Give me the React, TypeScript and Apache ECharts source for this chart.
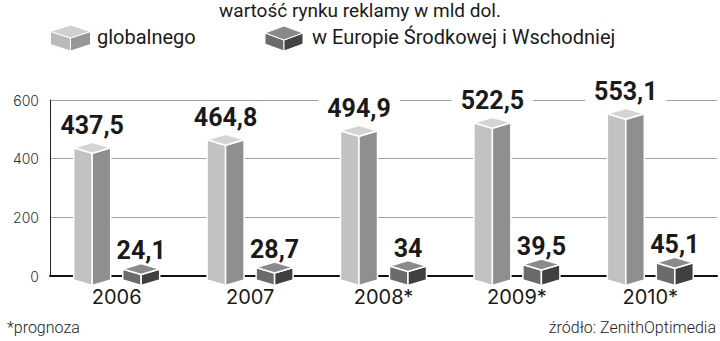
import React, { useEffect, useRef } from "react";
import * as echarts from "echarts";

const categories = ["2006", "2007", "2008*", "2009*", "2010*"];
const globalValues = [437.5, 464.8, 494.9, 522.5, 553.1];
const europeValues = [24.1, 28.7, 34, 39.5, 45.1];
const yTicks = [0, 200, 400, 600];

const titleText = "wartość rynku reklamy w mld dol.";
const legendGlobal = "globalnego";
const legendEurope = "w Europie Środkowej i Wschodniej";
const noteLeft = "*prognoza";
const noteRight = "źródło: ZenithOptimedia";

const GLOBAL_COLORS = { top: "#d4d4d4", left: "#c2c2c2", right: "#8f8f8f" };
const EUROPE_COLORS = { top: "#8b8b8b", left: "#6b6b6b", right: "#404040" };

const fmt = (v: number) => String(v).replace(".", ",");

function makeBoxRenderer(offset: number, colors: { top: string; left: string; right: string }) {
  return (params: any, api: any) => {
    const cat = api.value(0);
    const val = api.value(1);
    const p = api.coord([cat, val]);
    const p0 = api.coord([cat, 0]);
    const cx = p[0] + offset;
    const yv = p[1];
    const yb = p0[1] + 4;
    const w = 18.5;
    const dh = 5.5;
    const stroke = { stroke: "#ffffff", lineWidth: 1.5, lineJoin: "round" };
    return {
      type: "group",
      children: [
        {
          type: "polygon",
          shape: { points: [[cx - w, yv], [cx, yv + dh], [cx, yb + dh], [cx - w, yb]] },
          style: { fill: colors.left, ...stroke },
        },
        {
          type: "polygon",
          shape: { points: [[cx, yv + dh], [cx + w, yv], [cx + w, yb], [cx, yb + dh]] },
          style: { fill: colors.right, ...stroke },
        },
        {
          type: "polygon",
          shape: { points: [[cx - w, yv], [cx, yv - dh], [cx + w, yv], [cx, yv + dh]] },
          style: { fill: colors.top, ...stroke },
        },
      ],
    };
  };
}

function makeLabelRenderer(offset: number, labelGap: number) {
  return (params: any, api: any) => {
    const cat = api.value(0);
    const val = api.value(1);
    const p = api.coord([cat, val]);
    return {
      type: "text",
      x: p[0] + offset,
      y: p[1] - labelGap,
      style: {
        text: fmt(val),
        fontFamily: "Roboto, sans-serif",
        fontWeight: 700,
        fontSize: 25,
        fill: "#1a1a1a",
        align: "center",
        verticalAlign: "middle",
        backgroundColor: "#ffffff",
        padding: [0, 9],
      },
    };
  };
}

function cube(cx: number, w: number, top: number, dh: number, h: number, colors: { top: string; left: string; right: string }) {
  const mid = top + dh;
  const front = top + 2 * dh;
  return {
    type: "group",
    children: [
      { type: "polygon", shape: { points: [[cx - w, mid], [cx, front], [cx, front + h], [cx - w, mid + h]] }, style: { fill: colors.left, stroke: "#fff", lineWidth: 1 } },
      { type: "polygon", shape: { points: [[cx, front], [cx + w, mid], [cx + w, mid + h], [cx, front + h]] }, style: { fill: colors.right, stroke: "#fff", lineWidth: 1 } },
      { type: "polygon", shape: { points: [[cx - w, mid], [cx, top], [cx + w, mid], [cx, front]] }, style: { fill: colors.top, stroke: "#fff", lineWidth: 1 } },
    ],
  };
}

export default function App() {
  const ref = useRef<HTMLDivElement>(null);
  useEffect(() => {
    document.body.style.margin = "0";
    if (!ref.current) return;
    const chart = echarts.init(ref.current, undefined, { renderer: "svg" });
    const globalData = globalValues.map((v, i) => [i, v]);
    const europeData = europeValues.map((v, i) => [i, v]);
    chart.setOption({
      animation: false,
      backgroundColor: "#ffffff",
      grid: { left: 50, right: 3, top: 100, bottom: 65 },
      xAxis: {
        type: "category",
        data: categories,
        boundaryGap: true,
        axisLine: { show: true, lineStyle: { color: "#111111", width: 2 } },
        axisTick: { show: false },
        axisLabel: {
          color: "#1a1a1a",
          fontFamily: "Inter, sans-serif",
          fontSize: 20,
          lineHeight: 20,
          margin: 11,
        },
        splitLine: { show: false },
      },
      yAxis: {
        type: "value",
        min: yTicks[0],
        max: yTicks[yTicks.length - 1],
        interval: 200,
        axisLine: { show: true, lineStyle: { color: "#222222", width: 1 } },
        axisTick: { show: false },
        axisLabel: {
          color: "#333333",
          fontFamily: "Inter, sans-serif",
          fontWeight: 300,
          fontSize: 14,
          margin: 11,
        },
        splitLine: { show: true, lineStyle: { color: "#a0a0a0", width: 1 } },
      },
      series: [
        {
          type: "custom",
          name: legendGlobal + " labels",
          renderItem: makeLabelRenderer(-24.5, 22.5),
          data: globalData,
          z: 2,
          silent: true,
        },
        {
          type: "custom",
          name: legendEurope + " labels",
          renderItem: makeLabelRenderer(24.5, 18),
          data: europeData,
          z: 2,
          silent: true,
        },
        {
          type: "custom",
          name: legendGlobal,
          renderItem: makeBoxRenderer(-24.5, GLOBAL_COLORS),
          data: globalData,
          z: 4,
        },
        {
          type: "custom",
          name: legendEurope,
          renderItem: makeBoxRenderer(24.5, EUROPE_COLORS),
          data: europeData,
          z: 4,
        },
      ],
      graphic: [
        {
          type: "text",
          left: "center",
          top: 1,
          style: { text: titleText, fontFamily: "Roboto, sans-serif", fontSize: 19, fill: "#1a1a1a" },
        },
        cube(70.5, 20, 25, 6.5, 13, { top: "#d0d0d0", left: "#bababa", right: "#979797" }),
        {
          type: "text",
          x: 97,
          y: 37,
          style: { text: legendGlobal, fontFamily: "Roboto, sans-serif", fontSize: 20, fill: "#1a1a1a", verticalAlign: "middle" },
        },
        cube(284, 19, 26, 7, 11, { top: "#8a8a8a", left: "#6b6b6b", right: "#444444" }),
        {
          type: "text",
          x: 312,
          y: 37,
          style: { text: legendEurope, fontFamily: "Roboto, sans-serif", fontSize: 20, fill: "#1a1a1a", verticalAlign: "middle" },
        },
        {
          type: "text",
          x: 7,
          y: 327,
          style: { text: noteLeft, fontFamily: "Roboto, sans-serif", fontWeight: 300, fontSize: 16, fill: "#222222", verticalAlign: "middle" },
        },
        {
          type: "text",
          x: 716,
          y: 327,
          style: { text: noteRight, fontFamily: "Roboto, sans-serif", fontWeight: 300, fontSize: 16, fill: "#222222", align: "right", verticalAlign: "middle" },
        },
      ],
    });
    return () => chart.dispose();
  }, []);
  return <div ref={ref} style={{ width: 720, height: 341 }} />;
}
